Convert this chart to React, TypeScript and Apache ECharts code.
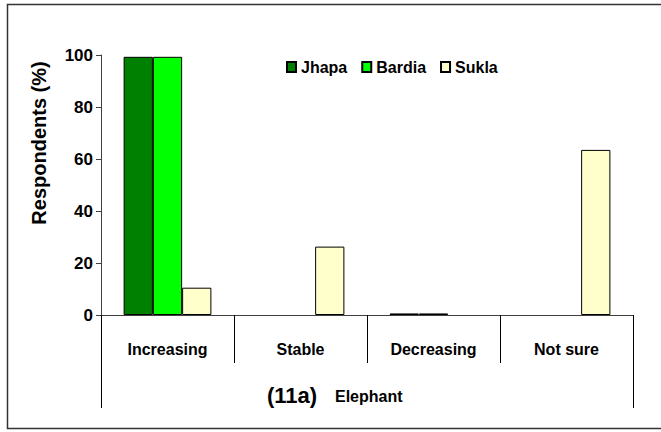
import React, { useEffect, useRef } from "react";
import * as echarts from "echarts";

const categories = ["Increasing", "Stable", "Decreasing", "Not sure"];
const seriesNames = ["Jhapa", "Bardia", "Sukla"];
const jhapa = [99.3, 0, 0.6, 0];
const bardia = [99.3, 0, 0.6, 0];
const sukla = [10.5, 26.3, 0, 63.5];
const yTicks = { min: 0, max: 100, interval: 20 };
const yAxisTitle = "Respondents (%)";
const panelLabel = "(11a)";
const panelName = "Elephant";

const colors = ["#008000", "#00ff00", "#ffffcc"];
const FONT = "Liberation Sans, Arial, Helvetica, sans-serif";

export default function App() {
  const ref = useRef<HTMLDivElement>(null);
  useEffect(() => {
    if (!ref.current) return;
    const chart = echarts.init(ref.current, undefined, { renderer: "svg" });
    const values = [jhapa, bardia, sukla];
    chart.setOption({
      animation: false,
      backgroundColor: "#ffffff",
      textStyle: { fontFamily: FONT },
      grid: { left: 101, right: 28, top: 55, bottom: 117, containLabel: false },
      legend: {
        left: 281,
        top: 54,
        itemWidth: 9,
        itemHeight: 10,
        itemGap: 14,
        icon: "rect",
        textStyle: { fontFamily: FONT, fontWeight: "bold", fontSize: 16, color: "#000" },
        data: seriesNames,
      },
      xAxis: {
        type: "category",
        data: categories,
        axisLine: { show: true, lineStyle: { color: "#404040", width: 1 } },
        axisTick: { show: true, length: 48, alignWithLabel: false, lineStyle: { color: "#000", width: 1 } },
        axisLabel: {
          fontFamily: FONT,
          fontWeight: "bold",
          fontSize: 16,
          color: "#000",
          margin: 26,
        },
        splitLine: { show: false },
      },
      yAxis: {
        type: "value",
        min: yTicks.min,
        max: yTicks.max,
        interval: yTicks.interval,
        axisLine: { show: true, lineStyle: { color: "#404040", width: 1 } },
        axisTick: { show: true, length: 5, lineStyle: { color: "#404040" } },
        axisLabel: { fontFamily: FONT, fontWeight: "bold", fontSize: 17, color: "#000", margin: 8 },
        splitLine: { show: false },
      },
      series: seriesNames.map((name, i) => ({
        name,
        type: "bar",
        data: values[i].map((v) => (v === 0 ? null : v)),
        barGap: "0%",
        barCategoryGap: "34%",
        itemStyle: { color: colors[i], borderColor: "#000", borderWidth: 1 },
      })),
      graphic: [
        {
          type: "rect",
          silent: true,
          shape: { x: 7.5, y: 4.5, width: 660, height: 424 },
          style: { fill: "none", stroke: "#333", lineWidth: 1.5 },
          z: 0,
        },
        {
          type: "line",
          shape: { x1: 101.5, y1: 315, x2: 101.5, y2: 408 },
          style: { stroke: "#000", lineWidth: 1 },
        },
        {
          type: "line",
          shape: { x1: 633.5, y1: 315, x2: 633.5, y2: 408 },
          style: { stroke: "#000", lineWidth: 1 },
        },
        {
          type: "text",
          x: 39,
          y: 143,
          rotation: Math.PI / 2,
          style: {
            text: yAxisTitle,
            fontFamily: FONT,
            fontWeight: "bold",
            fontSize: 20,
            fill: "#000",
            align: "center",
            verticalAlign: "middle",
          },
        },
        {
          type: "text",
          x: 267,
          y: 395,
          style: {
            text: panelLabel,
            fontFamily: FONT,
            fontWeight: "bold",
            fontSize: 22,
            fill: "#000",
            align: "left",
            verticalAlign: "middle",
          },
        },
        {
          type: "text",
          x: 335,
          y: 396,
          style: {
            text: panelName,
            fontFamily: FONT,
            fontWeight: "bold",
            fontSize: 16,
            fill: "#000",
            align: "left",
            verticalAlign: "middle",
          },
        },
      ],
    });
    return () => chart.dispose();
  }, []);
  return (
    <div
      ref={ref}
      style={{ position: "fixed", left: 0, top: 0, width: 661, height: 432, background: "#fff" }}
    />
  );
}
